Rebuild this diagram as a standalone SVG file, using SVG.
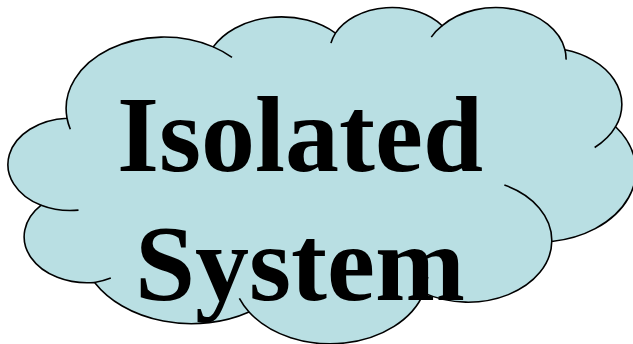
<svg xmlns="http://www.w3.org/2000/svg" width="633" height="344" viewBox="0 0 633 344">
<style>
.cloud{fill:#B9DFE3;stroke:#000;stroke-width:1.6;vector-effect:non-scaling-stroke;stroke-linejoin:round}
.tail{fill:none;stroke:#000;stroke-width:1.6;vector-effect:non-scaling-stroke}
.label{font-family:"Liberation Serif","Times New Roman",serif;font-weight:bold;font-size:108px;fill:#000;text-anchor:middle}
</style>
<rect width="633" height="344" fill="#fff"/>
<g id="isolated-system">
<g transform="translate(10.6 6.4) scale(0.0144676 0.0077824)">
<path class="cloud" d="M3900 14370 A6753 9190 0 0 1 14005.2 5202.1 A5333 7267 0 0 1 22456.1 3432.3 A4365 5945 0 0 1 29833 2481 A4857 6595 0 0 1 38318.1 5576.1 A5333 7273 0 0 1 41818.4 15459.8 A6775 9220 0 0 1 37404.3 30203.1 A5785 7867 0 0 1 28556 36813.3 A6752 9215 0 0 1 16480.5 39264.2 A7720 10543 0 0 1 5804.9 35470 A4360 5918 0 0 1 2113.4 25548.1 A4345 5945 0 0 1 3900 14370 Z"/>
<path class="tail" d="M4693 26177 A4345 5945 0 0 1 2113.4 25548.1 M6928 34899 A4360 5918 0 0 1 5804.9 35470 M16480.5 39264.2 A6752 9215 0 0 1 15812.9 37524.9 M28827 34751 A6752 9215 0 0 1 28556 36813.3 M34129 22954 A5785 7867 0 0 1 37404.3 30203.1 M41818.4 15459.8 A5333 7273 0 0 1 40370.6 18135.6 M38318.1 5576.1 A4857 6595 0 0 1 38394.6 6839.8 M29078 3952 A4857 6595 0 0 1 29833 2481 M22141 4720 A4365 5945 0 0 1 22456.1 3432.3 M14005.2 5202.1 A6753 9190 0 0 1 15304.8 6550.3 M4127 15789 A6753 9190 0 0 1 3900 14370"/>
</g>
<text class="label" x="300" y="170.5">Isolated</text>
<text class="label" x="300" y="299.5">System</text>
</g>
<g id="connectors"/>
</svg>
